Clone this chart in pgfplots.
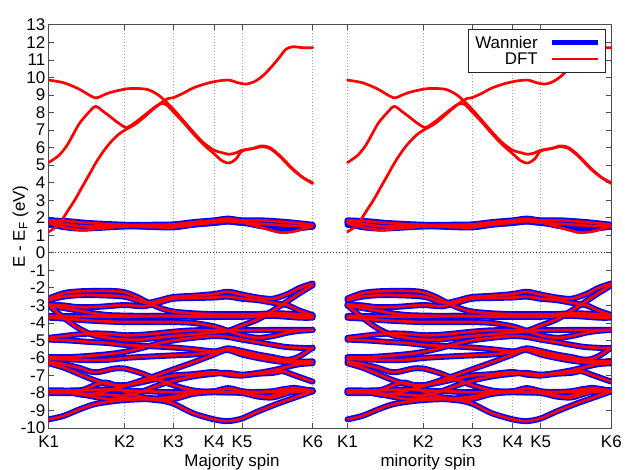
\documentclass[border=0pt]{standalone}
\usepackage{fontspec}
\setmainfont{Liberation Sans}
\usepackage{pgfplots}
\pgfplotsset{compat=1.18}

\pgfplotsset{
 wan/.style={blue, line width=6pt, smooth, line join=round, line cap=round, forget plot},
 dft/.style={red, line width=2.7pt, smooth, line join=round, line cap=round, forget plot},
 shifted/.style={x filter/.expression={x+300}},
}

% valence bands (Wannier and DFT)
\newcommand{\valence}[1]{%
\addplot[#1] coordinates {(0,-2.6)(15,-2.3)(30,-2.2)(50,-2.17)(65,-2.18)(76,-2.25)(88,-2.5)(100,-2.85)(112,-3.15)(125,-3.35)(145,-3.45)(166,-3.5)(194,-3.5)(225,-3.5)(250,-3.58)(265,-3.6)};
\addplot[#1] coordinates {(0,-2.7)(15,-2.5)(30,-2.42)(50,-2.42)(76,-2.5)(90,-2.75)(100,-2.85)(112,-2.7)(125,-2.52)(145,-2.45)(166,-2.35)(180,-2.22)(194,-2.38)(210,-2.55)(225,-2.62)(240,-2.35)(252,-2.0)(265,-1.75)};
\addplot[#1] coordinates {(0,-2.95)(15,-3.0)(30,-3.1)(50,-3.08)(76,-2.98)(95,-3.05)(110,-2.85)(125,-2.62)(145,-2.58)(166,-2.55)(180,-2.5)(194,-2.62)(210,-2.7)(225,-2.85)(240,-3.0)(252,-3.3)(265,-3.55)};
\addplot[#1] coordinates {(0,-3.0)(15,-3.15)(30,-3.3)(45,-3.45)(60,-3.55)(76,-3.58)(100,-3.6)(125,-3.6)(166,-3.6)(194,-3.55)(225,-3.45)(250,-3.5)(265,-3.6)};
\addplot[#1] coordinates {(0,-3.6)(30,-3.62)(60,-3.65)(76,-3.65)(108,-3.6)(145,-3.65)(194,-3.65)(225,-3.6)(252,-3.7)(265,-3.7)};
\addplot[#1] coordinates {(0,-3.7)(15,-3.75)(30,-3.82)(45,-3.88)(60,-3.92)(76,-3.95)(108,-3.95)(125,-3.95)(145,-4.0)(166,-4.2)(180,-4.45)(194,-4.7)(210,-4.85)(225,-4.75)(240,-4.55)(252,-4.45)(265,-4.4)};
\addplot[#1] coordinates {(0,-3.0)(15,-3.7)(30,-4.3)(45,-4.7)(60,-4.85)(76,-4.95)(92,-4.95)(108,-4.85)(125,-4.75)(145,-4.65)(166,-4.55)(180,-4.45)(194,-4.15)(210,-3.8)(225,-3.3)(240,-2.75)(252,-2.3)(265,-1.85)};
\addplot[#1] coordinates {(0,-4.85)(15,-4.75)(30,-4.65)(45,-4.6)(60,-4.62)(76,-4.7)(92,-4.68)(108,-4.6)(125,-4.5)(145,-4.42)(166,-4.42)(180,-4.45)(194,-4.42)(225,-4.4)(265,-4.4)};
\addplot[#1] coordinates {(0,-4.95)(20,-5.0)(40,-5.08)(60,-5.15)(76,-5.25)(100,-5.32)(125,-5.4)(145,-5.5)(166,-5.62)(180,-5.55)(194,-5.8)(210,-6.0)(225,-6.15)(240,-6.25)(252,-6.25)(265,-6.2)};
\addplot[#1] coordinates {(0,-5.95)(20,-5.95)(40,-5.88)(60,-5.78)(76,-5.65)(92,-5.45)(108,-5.2)(125,-5.0)(145,-4.85)(166,-4.75)(180,-4.8)(194,-4.95)(210,-5.1)(225,-5.25)(240,-5.38)(265,-5.45)};
\addplot[#1] coordinates {(0,-6.05)(20,-6.08)(40,-6.12)(60,-6.1)(76,-6.0)(100,-5.92)(125,-5.85)(145,-5.8)(166,-5.65)(180,-5.45)(194,-5.6)(210,-5.8)(225,-5.95)(240,-6.1)(252,-5.9)(265,-5.4)};
\addplot[#1] coordinates {(0,-6.2)(15,-6.35)(30,-6.55)(42,-6.78)(50,-6.8)(58,-6.7)(66,-6.6)(76,-6.6)(92,-6.85)(108,-7.2)(125,-7.55)(145,-7.85)(166,-7.95)(194,-7.95)(225,-7.92)(265,-7.9)};
\addplot[#1] coordinates {(0,-7.95)(20,-7.95)(40,-8.15)(60,-8.35)(76,-8.3)(92,-8.25)(108,-8.3)(125,-8.2)(145,-8.0)(166,-7.9)(180,-7.72)(194,-7.9)(210,-8.15)(222,-8.2)(235,-7.95)(245,-7.7)(265,-7.9)};
\addplot[#1] coordinates {(0,-7.9)(20,-7.92)(34,-8.1)(50,-8.0)(76,-7.6)(92,-7.3)(108,-7.0)(125,-6.65)(145,-6.25)(166,-5.8)(180,-5.5)(194,-5.65)(210,-5.85)(225,-6.0)(240,-6.15)(252,-6.2)(265,-6.2)};
\addplot[#1] coordinates {(0,-6.3)(15,-6.55)(30,-6.9)(45,-7.25)(60,-7.5)(76,-7.55)(92,-7.4)(108,-7.2)(125,-7.0)(145,-6.92)(166,-6.8)(180,-6.95)(194,-7.0)(210,-6.9)(225,-6.85)(235,-6.75)(245,-6.95)(265,-7.35)};
\addplot[#1] coordinates {(0,-7.85)(30,-7.85)(60,-7.8)(76,-7.85)(100,-7.9)(125,-7.95)(166,-7.9)(180,-7.75)(194,-7.9)(210,-7.95)(225,-7.9)(240,-7.75)(265,-7.85)};
\addplot[#1] coordinates {(0,-7.95)(20,-7.95)(35,-7.8)(48,-7.5)(57,-7.4)(66,-7.55)(76,-7.9)(92,-8.2)(108,-8.4)(125,-8.35)(145,-8.05)(166,-7.95)(194,-8.0)(210,-8.2)(225,-8.25)(240,-8.0)(255,-7.85)(265,-7.85)};
\addplot[#1] coordinates {(0,-8.0)(20,-8.0)(40,-8.05)(60,-8.1)(76,-8.15)(92,-7.95)(108,-7.6)(125,-7.3)(145,-7.05)(166,-6.9)(180,-6.85)(194,-6.95)(210,-6.85)(225,-6.7)(240,-6.5)(252,-6.35)(265,-6.3)};
\addplot[#1] coordinates {(0,-9.5)(15,-9.3)(30,-8.95)(45,-8.65)(60,-8.5)(76,-8.4)(95,-8.35)(110,-8.4)(125,-8.6)(145,-9.15)(166,-9.5)(180,-9.6)(194,-9.45)(210,-9.05)(230,-8.6)(250,-8.2)(265,-7.9)};
}

% low conduction bands common to both
\newcommand{\lowcommon}[1]{%
\addplot[#1] coordinates {(0,1.85)(20,1.8)(40,1.7)(76,1.6)(100,1.6)(125,1.62)(145,1.75)(166,1.85)(180,1.95)(194,1.85)(214,1.85)(240,1.75)(265,1.6)};
\addplot[#1] coordinates {(0,1.78)(20,1.6)(40,1.5)(76,1.55)(100,1.48)(125,1.45)(145,1.6)(166,1.72)(180,1.8)(194,1.72)(214,1.65)(240,1.55)(265,1.5)};
}
\newcommand{\lowwan}[1]{%
\addplot[#1] coordinates {(0,1.7)(12,1.5)(25,1.4)(36,1.38)(50,1.42)(76,1.5)(100,1.5)(125,1.5)(145,1.65)(166,1.75)(180,1.88)(194,1.75)(210,1.55)(222,1.45)(233,1.4)(245,1.4)(255,1.45)(265,1.5)};
\addplot[#1] coordinates {(0,1.75)(15,1.6)(30,1.5)(50,1.48)(76,1.52)(100,1.55)(125,1.55)(145,1.68)(166,1.8)(180,1.9)(194,1.82)(214,1.78)(228,1.62)(240,1.5)(252,1.52)(265,1.55)};
\addplot[#1] coordinates {(0,1.6)(15,1.5)(30,1.45)(50,1.48)(76,1.55)(100,1.52)(125,1.52)(145,1.62)(166,1.7)(180,1.78)(194,1.7)(214,1.6)(228,1.42)(240,1.35)(252,1.4)(265,1.5)};
}
\newcommand{\lowdft}[1]{%
\addplot[#1] coordinates {(0,1.7)(12,1.5)(25,1.35)(36,1.3)(50,1.38)(76,1.5)(100,1.5)(125,1.5)(145,1.65)(166,1.75)(180,1.88)(194,1.75)(210,1.5)(222,1.3)(233,1.15)(245,1.2)(255,1.35)(265,1.5)};
}
% upper conduction bands (DFT only)
\newcommand{\conduction}[1]{%
\addplot[#1] coordinates {(0,9.85)(15,9.7)(30,9.35)(46,8.85)(55,9.0)(62,9.15)(78,9.35)(90,9.37)(100,9.3)(110,9.0)(118,8.6)(125,8.2)(135,7.55)(145,6.9)(155,6.3)(166,5.85)(175,5.7)(181,5.62)(188,5.7)(194,5.85)(205,5.95)(214,6.05)(222,5.95)(232,5.5)(244,4.8)(255,4.3)(265,4.0)};
\addplot[#1] coordinates {(0,5.15)(10,5.55)(18,6.1)(25,6.8)(31,7.4)(40,8.0)(47,8.35)(55,8.05)(62,7.75)(70,7.4)(78,7.15)(86,7.4)(94,7.75)(104,8.2)(112,8.5)(118,8.45)(125,8.05)(135,7.45)(145,6.8)(155,6.2)(166,5.65)(174,5.25)(181,5.12)(188,5.35)(194,5.8)(205,5.95)(214,6.1)(222,6.0)(232,5.55)(244,4.85)(255,4.3)(265,3.95)};
\addplot[#1] coordinates {(0,1.2)(10,1.6)(18,2.3)(26,3.0)(34,3.8)(41,4.5)(48,5.2)(55,5.8)(62,6.3)(70,6.75)(78,7.05)(86,7.3)(94,7.65)(104,8.15)(114,8.6)(120,8.8)(125,8.85)(135,9.1)(145,9.4)(158,9.65)(170,9.8)(181,9.85)(190,9.7)(198,9.62)(206,9.75)(214,10.05)(222,10.5)(231,11.1)(238,11.6)(245,11.75)(255,11.7)(265,11.7)};
}

\begin{document}
\begin{tikzpicture}
\begin{axis}[
 scale only axis, width=565pt, height=405pt,
 xmin=0, xmax=565, ymin=-10, ymax=13,
 xtick={0,76,125,166,194,265,300,376,425,466,494,565},
 xticklabels={K1,K2,K3,K4,K5,K6,K1,K2,K3,K4,K5,K6},
 ytick={-10,-9,...,13},
 xmajorgrids,
 major grid style={gray!70, line width=0.6pt, dash pattern=on 1pt off 2pt},
 extra y ticks={0}, extra y tick labels={},
 extra y tick style={ymajorgrids=true, major grid style={black!80, line width=0.7pt, dash pattern=on 1pt off 2pt}},
 axis line style={black!70, line width=0.8pt},
 tick style={black!70, line width=0.8pt},
 major tick length=5pt,
 tick label style={font=\fontsize{17}{18}\selectfont},
 xticklabel style={yshift=-4pt},
 /pgf/number format/assume math mode=true,
 ylabel={E - E\textsubscript{F} (eV)},
 ylabel style={font=\fontsize{17}{18}\selectfont, at={(axis description cs:-0.030,0.5)}, anchor=south},
 legend style={at={(axis description cs:1,1)}, anchor=north east, xshift=-6pt, yshift=-4pt,
   draw=black!85, line width=0.8pt, fill=white, font=\fontsize{17}{18}\selectfont,
   inner xsep=5pt, inner ysep=5pt, nodes={inner sep=1.5pt},
   /tikz/every odd column/.append style={column sep=10pt}},
 legend cell align=right, legend plot pos=right,
 legend image code/.code={\draw[#1] (0pt,0pt) -- (46pt,0pt);},
]
\addlegendimage{blue, line width=5pt}
\addlegendentry{Wannier}
\addlegendimage{red, line width=2.7pt}
\addlegendentry{DFT}

\valence{wan}
\valence{wan,shifted}
\lowcommon{wan}
\lowcommon{wan,shifted}
\lowwan{wan}
\lowwan{wan,shifted}

\valence{dft}
\valence{dft,shifted}
\lowcommon{dft}
\lowcommon{dft,shifted}
\lowdft{dft}
\lowdft{dft,shifted}
\conduction{dft}
\conduction{dft,shifted}

\coordinate (majlab) at (axis cs:184,-10);
\coordinate (minlab) at (axis cs:381,-10);
\end{axis}
\node[anchor=north, inner sep=0pt, yshift=-26pt, font=\fontsize{17}{18}\selectfont] at (majlab) {Majority spin};
\node[anchor=north, inner sep=0pt, yshift=-26pt, font=\fontsize{17}{18}\selectfont] at (minlab) {minority spin};
\path (current axis.south west) ++(-49pt,-42pt) rectangle ([xshift=11pt,yshift=25pt]current axis.north east);
\end{tikzpicture}
\end{document}
